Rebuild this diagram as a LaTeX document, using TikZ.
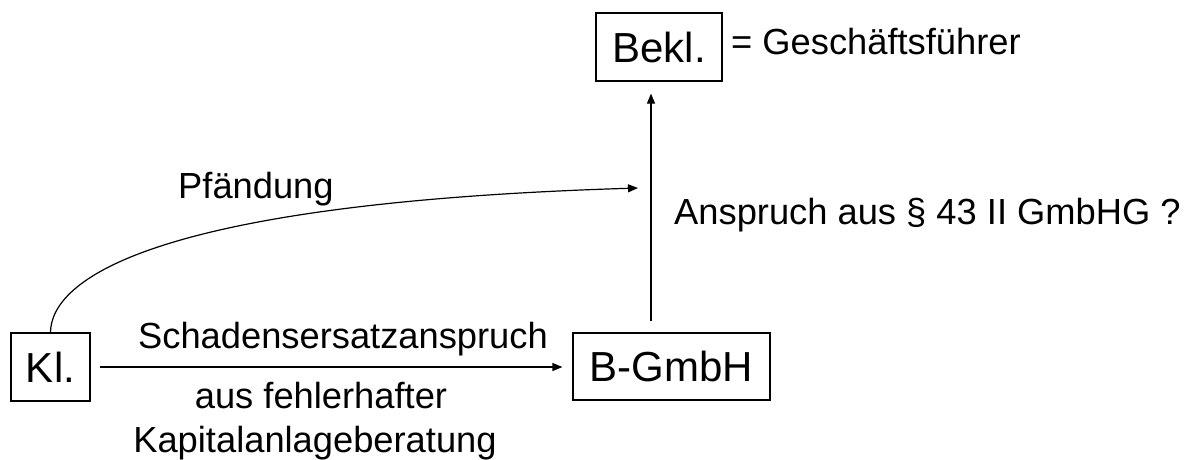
\documentclass[tikz,border=0pt]{standalone}
\usepackage{fontspec}
\setmainfont{Liberation Sans}
\usetikzlibrary{arrows.meta}
\begin{document}
\begin{tikzpicture}[x=1pt,y=-1pt,
  box/.style={draw, line width=1.2pt, inner sep=0pt, font=\fontsize{42}{50}\selectfont},
  lbl/.style={inner sep=0pt, font=\fontsize{36.3}{43}\selectfont},
  arr/.style={line width=1.2pt, -{Triangle[length=10pt,width=8pt]}}]
\useasboundingbox (0,0) rectangle (1199,459);
% boxes
\node[box, minimum width=79pt, minimum height=68pt] (kl) at (50.5,367) {Kl.};
\node[box, minimum width=197pt, minimum height=67pt] (gmbh) at (671.5,366.5) {B-GmbH};
\node[box, minimum width=126pt, minimum height=68pt] (bekl) at (659,47) {Bekl.};
% labels
\node[lbl, anchor=base west] (gf) at (731,54) {= Geschäftsführer};
\node[lbl, anchor=base west] (pf) at (178,198) {Pfändung};
\node[lbl, anchor=base west] (ans) at (674,224) {Anspruch aus § 43 II GmbHG ?};
\node[lbl, anchor=base] (sch) at (343,348) {Schadensersatzanspruch};
\node[lbl, anchor=base] (aus) at (321,408) {aus fehlerhafter};
\node[lbl, anchor=base] (kap) at (315,452) {Kapitalanlageberatung};
% connectors
\coordinate (pfend) at (638,188);
\coordinate (ax) at (651,0);
\draw[arr] (kl.north) .. controls (51,280) and (150,203) .. (pfend);
\draw[arr, shorten <=11pt, shorten >=12pt] (gmbh.north -| ax) -- (bekl.south -| ax);
\draw[arr, shorten <=9pt, shorten >=10pt] (kl.east) -- (gmbh.west |- kl.east);
\end{tikzpicture}
\end{document}
